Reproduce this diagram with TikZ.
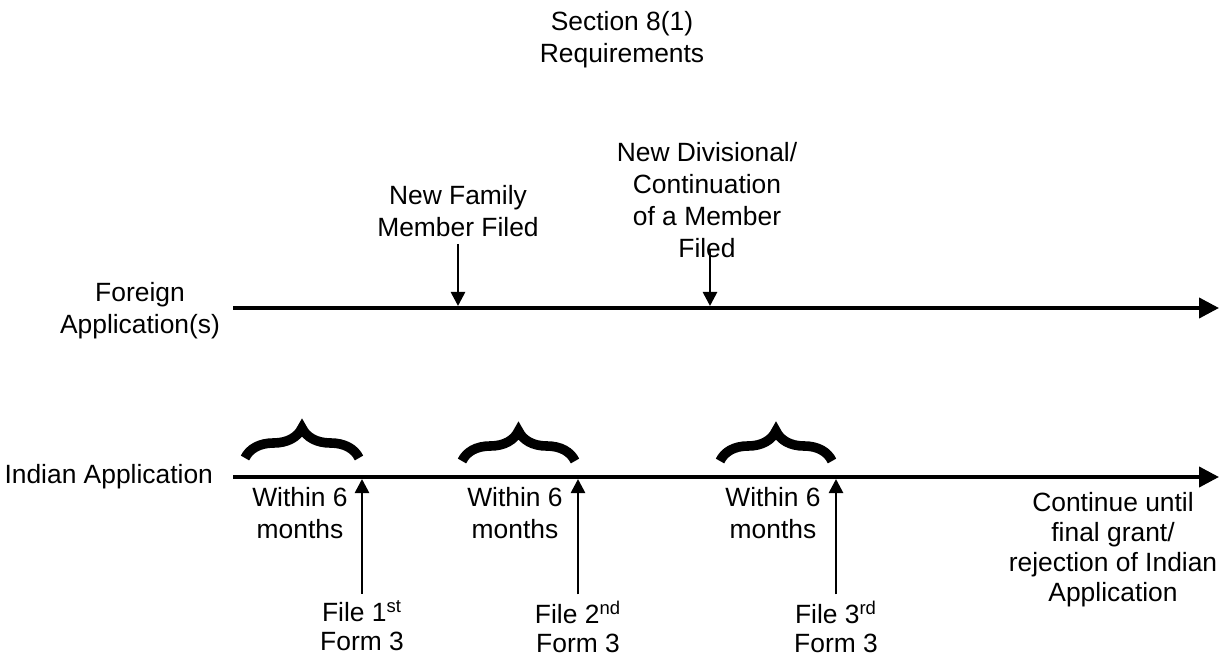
\documentclass[tikz,border=0pt]{standalone}
\usepackage{fontspec}
\setmainfont{Liberation Sans}
\usetikzlibrary{arrows.meta, decorations.pathreplacing}

\begin{document}
\begin{tikzpicture}[x=0.5pt, y=-0.5pt,
		lbl/.style={align=center, font=\fontsize{13.2}{16}\selectfont},
		filelbl/.style={align=center, font=\fontsize{13.2}{14.5}\selectfont},
		timeline/.style={line width=2pt, -{Triangle[length=10pt,width=10pt]}},
		tick/.style={line width=1.3pt, -{Triangle[length=7pt,width=7pt]}},
		curly/.style={line width=4.8pt, decorate, decoration={brace, amplitude=15pt}}]
		\def\yf{308}
		\def\yi{477}
		\useasboundingbox (0,0) rectangle (1231,657);
		\coordinate (fstart) at (233,\yf);
		\coordinate (fend) at (1219,\yf);
		\coordinate (istart) at (233,\yi);
		\coordinate (iend) at (1219,\yi);
		\node[lbl] (title) at (622,40) {Section 8(1)\\Requirements};
		\node[lbl] (foreign) at (140,311) {Foreign\\Application(s)};
		\node[lbl, anchor=east] (indian) at (220,\yi) {Indian Application};
		\node[lbl] (family) at (458,211) {New Family\\Member Filed};
		\node[lbl] (divisional) at (707,200) {New Divisional/\\Continuation\\of a Member\\Filed};
		\coordinate (divtop) at (710,250);
		\coordinate (fam-in) at (458,306);
		\coordinate (div-in) at (710,306);
		\draw[timeline] (fstart) -- (fend);
		\draw[timeline] (istart) -- (iend);
		\draw[tick] (family.south) -- (fam-in);
		\draw[tick] (divtop) -- (div-in);
		\node[lbl] (within1) at (300,513) {Within 6\\months};
		\node[lbl] (within2) at (515,513) {Within 6\\months};
		\node[lbl] (within3) at (773,513) {Within 6\\months};
		\draw[curly] (245,458) -- (359,458);
		\draw[curly] (462,461) -- (575,461);
		\draw[curly] (720,461) -- (832,461);
		\node[filelbl] (file1) at (362,626) {File 1\textsuperscript{st}\\Form 3};
		\node[filelbl] (file2) at (578,627) {File 2\textsuperscript{nd}\\Form 3};
		\node[filelbl] (file3) at (836,627) {File 3\textsuperscript{rd}\\Form 3};
		\coordinate (i1) at (362,479);
		\coordinate (i2) at (578,479);
		\coordinate (i3) at (836,479);
		\draw[tick] (file1.north) -- (i1);
		\draw[tick] (file2.north) -- (i2);
		\draw[tick] (file3.north) -- (i3);
		\node[lbl, font=\fontsize{13.2}{15}\selectfont] (continue) at (1113,550) {Continue until\\final grant/\\rejection of Indian\\Application};
	\end{tikzpicture}
\end{document}
